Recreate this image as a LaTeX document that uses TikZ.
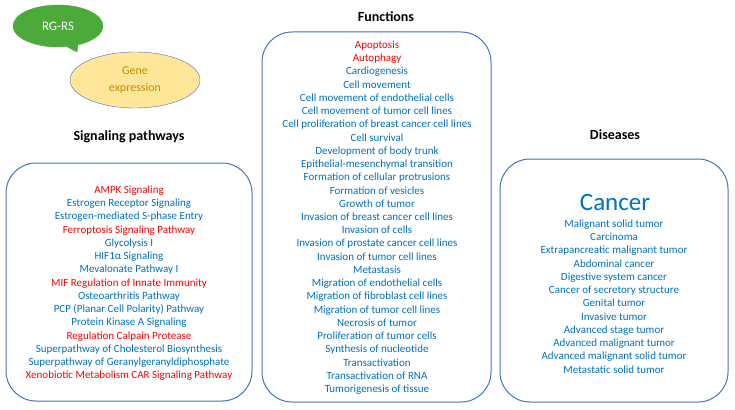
\documentclass[tikz,border=0pt]{standalone}
\usepackage{fontspec}
\setmainfont{Carlito}
\usetikzlibrary{shapes.geometric,shapes.callouts}
\definecolor{txtblue}{RGB}{0,112,192}
\definecolor{txtred}{RGB}{255,0,0}
\definecolor{boxblue}{RGB}{68,114,196}
\definecolor{bubblegreen}{RGB}{76,170,58}
\definecolor{genefill}{RGB}{255,230,153}
\definecolor{genetext}{RGB}{191,144,0}
\newcommand{\hit}[1]{\textcolor{txtred}{#1}}

\begin{document}
\begin{tikzpicture}[x=1pt,y=-1pt,
		listbox/.style={draw=boxblue,line width=1pt,rounded corners=30pt},
		listtext/.style={align=center,text=txtblue,inner sep=0pt,anchor=base,
			font=\fontsize{11}{13.23}\selectfont},
		heading/.style={font=\fontsize{14}{16}\selectfont\bfseries,anchor=base}]
	\useasboundingbox (0,0) rectangle (735,409);
	
	\node[ellipse callout,fill=bubblegreen,draw=bubblegreen,
		minimum width=90pt,minimum height=42pt,
		callout absolute pointer={(77,52)},
		text=white,font=\fontsize{13}{15}\selectfont] (rgrs) at (58,26) {RG-RS};
	
	\node[ellipse,draw=boxblue,fill=genefill,minimum width=130pt,minimum height=56pt,
		text=genetext,align=center,font=\fontsize{12}{17}\selectfont] (gene) at (135,80)
		{Gene\\expression};
	
	\node[heading] (sighead) at (129,140) {Signaling pathways};
	\node[heading] (funchead) at (386,21.5) {Functions};
	\node[heading] (dishead) at (615,139.5) {Diseases};
	
	\draw[listbox] (6,163) rectangle (252,401);
	\draw[listbox] (262,32) rectangle (491,402);
	\draw[listbox] (500,159) rectangle (728,402);
	
	% lists: base anchor sits on the last line
	\node[listtext] (pathways) at (129,378.7) {\hit{AMPK Signaling}\\
		Estrogen Receptor Signaling\\
		Estrogen-mediated S-phase Entry\\
		\hit{Ferroptosis Signaling Pathway}\\
		Glycolysis I\\
		HIF1α Signaling\\
		Mevalonate Pathway I\\
		\hit{MIF Regulation of Innate Immunity}\\
		Osteoarthritis Pathway\\
		PCP (Planar Cell Polarity) Pathway\\
		Protein Kinase A Signaling\\
		\hit{Regulation Calpain Protease}\\
		Superpathway of Cholesterol Biosynthesis\\
		Superpathway of Geranylgeranyldiphosphate\\
		\hit{Xenobiotic Metabolism CAR Signaling Pathway}};
	
	\node[listtext] (functions) at (377,392.5) {\hit{Apoptosis}\\
		\hit{Autophagy}\\
		Cardiogenesis\\
		Cell movement\\
		Cell movement of endothelial cells\\
		Cell movement of tumor cell lines\\
		Cell proliferation of breast cancer cell lines\\
		Cell survival\\
		Development of body trunk\\
		Epithelial-mesenchymal transition\\
		Formation of cellular protrusions\\
		Formation of vesicles\\
		Growth of tumor\\
		Invasion of breast cancer cell lines\\
		Invasion of cells\\
		Invasion of prostate cancer cell lines\\
		Invasion of tumor cell lines\\
		Metastasis\\
		Migration of endothelial cells\\
		Migration of fibroblast cell lines\\
		Migration of tumor cell lines\\
		Necrosis of tumor\\
		Proliferation of tumor cells\\
		Synthesis of nucleotide\\
		Transactivation\\
		Transactivation of RNA\\
		Tumorigenesis of tissue};
	
	\node[text=txtblue,anchor=base,font=\fontsize{25}{28}\selectfont] (cancer) at (615,210) {Cancer};
	
	\node[listtext] (diseases) at (614,373) {Malignant solid tumor\\
		Carcinoma\\
		Extrapancreatic malignant tumor\\
		Abdominal cancer\\
		Digestive system cancer\\
		Cancer of secretory structure\\
		Genital tumor\\
		Invasive tumor\\
		Advanced stage tumor\\
		Advanced malignant tumor\\
		Advanced malignant solid tumor\\
		Metastatic solid tumor};
\end{tikzpicture}
\end{document}
